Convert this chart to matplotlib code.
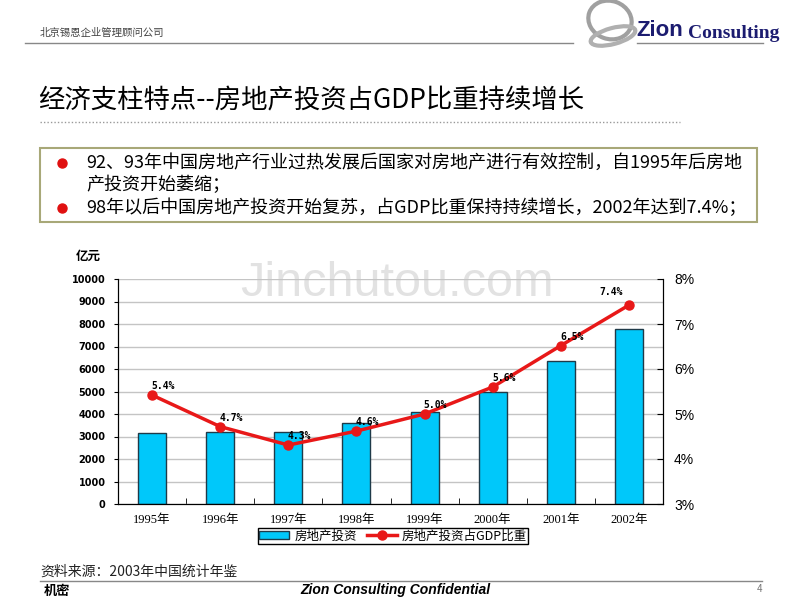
import numpy as np
import matplotlib
matplotlib.use("Agg")
import matplotlib.pyplot as plt
from matplotlib.patches import Rectangle, Ellipse
from matplotlib.lines import Line2D
from matplotlib.transforms import Affine2D
from matplotlib.ticker import FixedLocator, FuncFormatter

plt.rcParams['font.family'] = ['Noto Sans CJK SC', 'DejaVu Sans']

# data
years = ['1995年', '1996年', '1997年', '1998年', '1999年', '2000年', '2001年', '2002年']
invest = [3149, 3216, 3178, 3614, 4103, 4984, 6344, 7791]          # 亿元
gdp_share = [5.42, 4.72, 4.31, 4.62, 5.0, 5.6, 6.52, 7.42]           # %
share_labels = ['5.4%', '4.7%', '4.3%', '4.6%', '5.0%', '5.6%', '6.5%', '7.4%']
left_ticks = [0, 1000, 2000, 3000, 4000, 5000, 6000, 7000, 8000, 9000, 10000]
right_ticks = [3, 4, 5, 6, 7, 8]

bar_name = '房地产投资'
line_name = '房地产投资占GDP比重'
title = '经济支柱特点--房地产投资占GDP比重持续增长'
bullets = ['92、93年中国房地产行业过热发展后国家对房地产进行有效控制，自1995年后房地',
           '产投资开始萎缩；',
           '98年以后中国房地产投资开始复苏，占GDP比重保持持续增长，2002年达到7.4%；']
source = '资料来源：2003年中国统计年鉴'

W, H = 800, 600
fig = plt.figure(figsize=(8, 6), dpi=100)
# pixel coords, y from the top
T = Affine2D().scale(1 / W, -1 / H).translate(0, 1) + fig.transFigure

# ---- header ----
fig.text(40, 33, '北京锡恩企业管理顾问公司', transform=T, fontsize=7.5, color='#444444', va='center')
fig.add_artist(Line2D([25, 573], [43, 43], transform=T, color='#888888', lw=1))
fig.add_artist(Line2D([637, 763], [43, 43], transform=T, color='#888888', lw=1))
fig.add_artist(Ellipse((610, 20), 44, 38, angle=20, transform=T, fill=False, ec='#a0a0a0', lw=3))
fig.add_artist(Ellipse((613, 36), 46, 16, angle=-15, transform=T, fill=False, ec='#b0b0b0', lw=3))
fig.text(636, 31, 'Zion', transform=T, fontsize=16, fontweight='bold', color='#1c1c70',
         family='Liberation Sans', va='center')
fig.text(688, 33, 'Consulting', transform=T, fontsize=14, fontweight='bold', color='#1c1c70',
         family='Liberation Serif', va='center')

# ---- title ----
fig.text(38, 101, title, transform=T, fontsize=19, va='center', color='black')
fig.add_artist(Line2D([40, 680], [122, 122], transform=T, color='#999999', lw=1, ls=(0, (1, 1.5))))

# ---- bullet box ----
fig.add_artist(Rectangle((40, 148), 717, 74, transform=T, fill=False, ec='#a8a878', lw=1.5))
for yy in (163, 208):
    fig.add_artist(Line2D([62], [yy], transform=T, marker='o', color='#e01010', ms=6.5, ls=''))
for s, yy in zip(bullets, (163, 185, 208)):
    fig.text(86, yy, s, transform=T, fontsize=13, va='center', color='black')

# ---- chart ----
ax = fig.add_axes([118 / W, 1 - 504 / H, 545 / W, 225 / H])
x = np.arange(len(years))
bars = ax.bar(x, invest, width=0.41, color='#00c8fa', edgecolor='#1f3a48', lw=1, zorder=2)
ax.set_xlim(-0.5, len(years) - 0.5)
ax.set_ylim(0, 10000)
ax.set_yticks(left_ticks)
ax.yaxis.grid(True, color='#c4c4c4', lw=1)
ax.set_axisbelow(True)
ax.tick_params(axis='y', direction='out', length=3, labelsize=7, pad=6)
for lab in ax.get_yticklabels():
    lab.set_fontweight('bold')
    lab.set_family('DejaVu Sans')
ax.set_xticks(x)
ax.set_xticklabels(years, family=['Liberation Serif', 'Noto Sans CJK SC'], fontsize=9)
ax.xaxis.set_minor_locator(FixedLocator(x[:-1] + 0.5))
ax.tick_params(axis='x', which='major', length=0, pad=7)
ax.tick_params(axis='x', which='minor', direction='in', length=4)
ax.spines['top'].set_visible(False)
for sp in ('left', 'bottom'):
    ax.spines[sp].set_color('black')

ax.text(-0.078, 1.1, '亿元', transform=ax.transAxes, fontsize=9, fontweight='bold', va='center')
ax.text(240, 284, 'Jinchutou.com', transform=T, fontsize=35, color='#e2e2e2',
        family='Liberation Sans', va='center', zorder=0.1)

ax2 = ax.twinx()
ax2.set_ylim(3, 8)
ax2.set_yticks(right_ticks)
ax2.yaxis.set_major_formatter(FuncFormatter(lambda v, p: f'{v:.0f}%'))
ax2.tick_params(axis='y', direction='in', length=4, labelsize=10, pad=8)
for lab in ax2.get_yticklabels():
    lab.set_family('Liberation Sans')
ax2.spines['top'].set_visible(False)
line, = ax2.plot(x, gdp_share, color='#e81818', lw=2.5, marker='o', ms=6.5, zorder=3)
for i, (xv, yv, s) in enumerate(zip(x, gdp_share, share_labels)):
    off = (-18, 13) if i == len(x) - 1 else (11, 9)
    ax2.annotate(s, (xv, yv), xytext=off, textcoords='offset pixels', ha='center', va='center',
                 fontsize=7, fontweight='bold', family='DejaVu Sans Mono')

leg = fig.legend([bars, line], [bar_name, line_name], loc='center',
                 bbox_to_anchor=(393 / W, 1 - 536 / H), ncol=2, fancybox=False,
                 edgecolor='black', framealpha=1, borderpad=0.1, handlelength=2.4,
                 handleheight=0.6, handletextpad=0.4, columnspacing=0.8, fontsize=9,
                 borderaxespad=0)
leg.get_frame().set_linewidth(1)

# ---- footer ----
fig.text(40, 572, source, transform=T, fontsize=10, va='center', color='#222222')
fig.add_artist(Line2D([40, 762], [581, 581], transform=T, color='#888888', lw=1))
fig.text(44, 591, '机密', transform=T, fontsize=9.5, fontweight='bold', style='italic', va='center')
fig.text(395, 590, 'Zion Consulting Confidential', transform=T, fontsize=10, fontweight='bold',
         style='italic', family='Liberation Sans', ha='center', va='center')
fig.text(757, 589, '4', transform=T, fontsize=7, color='#777777', va='center')

fig.savefig('out.png', dpi=100)
